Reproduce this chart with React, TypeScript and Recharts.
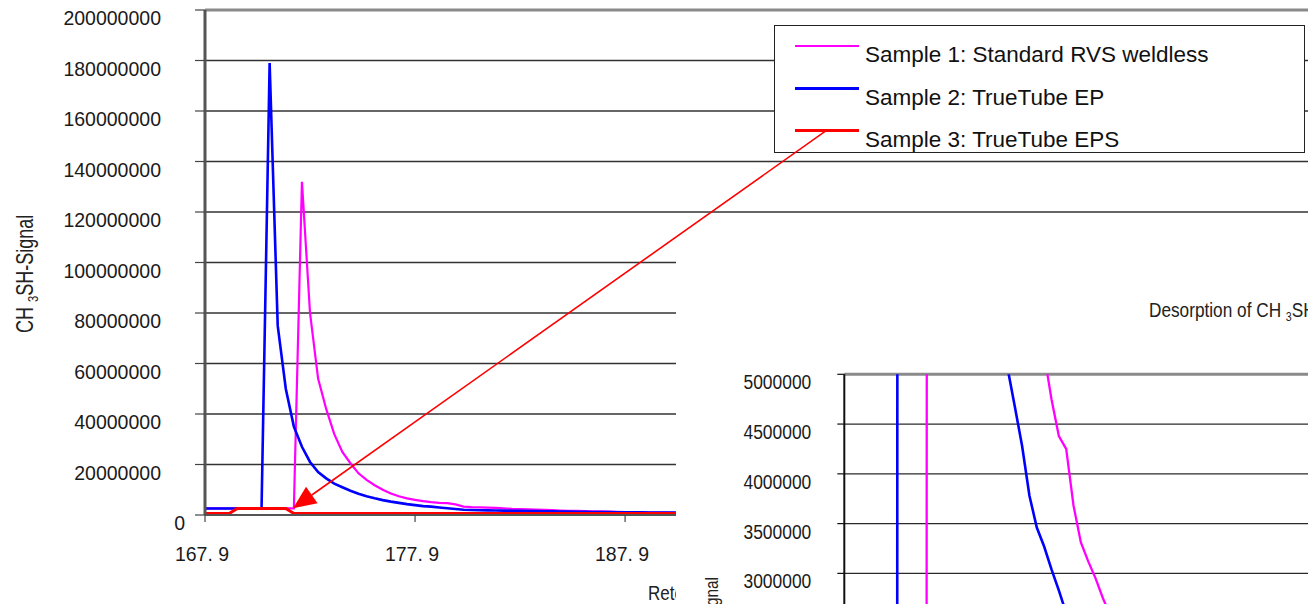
import React from "react";
import { LineChart, Line, XAxis, YAxis, CartesianGrid, ReferenceLine } from "recharts";

const FONT = '"Liberation Sans", Arial, Helvetica, sans-serif';
const M = 1000000;

// x axis is the sample index, labelled with the retention time every 26 samples
const X_TICKS = [0, 26, 52, 78, 104, 130];
const X_TICK_LABELS = ["167. 9", "177. 9", "187. 9", "197. 9", "207. 9", "217. 9"];
const Y_TICKS = [
  0, 20000000, 40000000, 60000000, 80000000, 100000000,
  120000000, 140000000, 160000000, 180000000, 200000000,
];
const INSET_Y_TICKS = [
  0, 500000, 1000000, 1500000, 2000000, 2500000,
  3000000, 3500000, 4000000, 4500000, 5000000,
];

// CH3SH signal in millions, one value per sample
const SAMPLE1 = [
  2.6, 2.6, 2.6, 2.6, 2.6, 2.6, 2.6, 2.6, 2.6, 2.6, 2.6, 2.6,
  132, 80, 54, 42, 32, 25, 20.5, 16.5, 13.9, 11.8, 10,
  8.5, 7.4, 6.6, 6.0, 5.5, 5.1, 4.8, 4.7, 4.2, 3.3,
  3.1, 3.0, 2.9, 2.8, 2.6, 2.4, 2.3, 2.2, 2.1, 2.0,
  1.9, 1.75, 1.65, 1.6, 1.5, 1.45, 1.4, 1.3, 1.2, 1.15,
  1.1, 1.05, 1.0, 0.95, 0.95, 0.9, 0.9, 0.9, 0.9, 0.85,
  0.85, 0.85, 0.85, 0.8, 0.8, 0.8, 0.8,
];
const SAMPLE2 = [
  2.6, 2.6, 2.6, 2.6, 2.6, 2.6, 2.6, 2.6,
  179, 75, 50, 35, 27, 21, 17, 14.5, 12.4, 11,
  9.6, 8.4, 7.4, 6.6, 5.9, 5.3, 4.8, 4.3, 3.9, 3.5,
  3.3, 3.0, 2.7, 2.4, 2.1, 2.0, 1.9, 1.85, 1.8, 1.75,
  1.7, 1.65, 1.6, 1.55, 1.5, 1.45, 1.4, 1.35, 1.3, 1.25,
  1.2, 1.2, 1.15, 1.1, 1.1, 1.05, 1.05, 1.0, 1.0, 0.95,
  0.95, 0.9, 0.9, 0.9, 0.85, 0.85, 0.85, 0.8, 0.8, 0.8, 0.8, 0.75,
];
const SAMPLE3 = [
  0.6, 0.6, 0.6, 0.6, 2.6, 2.6, 2.6, 2.6, 2.6, 2.6, 2.6,
  0.6, 0.6, 0.6, 0.6, 0.6, 0.6, 0.6, 0.6, 0.6, 0.6,
  0.6, 0.6, 0.6, 0.6, 0.6, 0.6, 0.6, 0.6, 0.6, 0.6,
  0.6, 0.6, 0.6, 0.6, 0.6, 0.6, 0.6, 0.6, 0.6, 0.6,
  0.6, 0.6, 0.6, 0.6, 0.6, 0.6, 0.6, 0.6, 0.6, 0.6,
  0.6, 0.6, 0.6, 0.6, 0.6, 0.6, 0.6, 0.6, 0.6, 0.6,
  0.6, 0.6, 0.6, 0.6, 0.6, 0.6, 0.6, 0.6, 0.6,
];

// zoomed desorption chart (inset), millions
const INSET_S1 = [
  2.2, 2.2, 2.2, 2.2, 2.2, 2.2, 2.2, 2.2, 2.2, 2.2, 2.2, 2.2,
  120, 80, 55, 38, 27, 20, 15, 12, 10, 8.8,
  7.8, 7.0, 6.4, 5.9, 5.5, 5.2, 4.75, 4.38, 4.25, 3.68,
  3.31, 3.12, 2.95, 2.75, 2.58, 2.45, 2.33, 2.22, 2.12, 2.03,
  1.95, 1.88, 1.82, 1.76, 1.7, 1.65, 1.6, 1.56, 1.52, 1.48,
  1.45, 1.42, 1.39, 1.36, 1.33, 1.3, 1.28, 1.26, 1.24, 1.22,
  1.2, 1.18,
];
const INSET_S2 = [
  2.0, 2.0, 2.0, 2.0, 2.0, 2.0, 2.0, 2.0,
  150, 80, 50, 35, 25, 18, 14, 11, 9.5, 8.3,
  7.3, 6.6, 6.0, 5.5, 5.07, 4.68, 4.28, 3.78, 3.46, 3.27,
  3.04, 2.83, 2.6, 2.4, 2.25, 2.1, 2.0, 1.9, 1.8, 1.72,
  1.65, 1.6, 1.55, 1.5, 1.45, 1.4, 1.36, 1.32, 1.28, 1.25,
  1.22, 1.2, 1.18, 1.15, 1.12, 1.1, 1.08, 1.06, 1.04, 1.02,
  1.0, 1.0, 0.98, 0.96, 0.95, 0.94,
];

const SERIES = [
  { key: "s1", name: "Sample 1: Standard RVS weldless", color: "#FF00FF", width: 2.2, legendWidth: 2 },
  { key: "s2", name: "Sample 2: TrueTube EP", color: "#0000FF", width: 2.6, legendWidth: 3.2 },
  { key: "s3", name: "Sample 3: TrueTube EPS", color: "#FF0000", width: 3, legendWidth: 2.6 },
];

const mainData = SAMPLE1.map((v, i) => ({ i, s1: v * M, s2: SAMPLE2[i] * M, s3: SAMPLE3[i] * M }));
const insetData = INSET_S1.map((v, i) => ({ i, s1: v * M, s2: INSET_S2[i] * M }));

// arrow from the sample 3 legend entry down to its trace
const ARROW_FROM = { x: 76.8, y: 152 * M };
const ARROW_TO = { x: 10.9, y: 2.65 * M };

const renderYTick = ({ x, y, payload }: any) => (
  <text
    x={x + (payload.value === 0 ? 24 : 0)}
    y={y + 8}
    textAnchor="end"
    dominantBaseline="central"
    fontSize={19.5}
    fontFamily={FONT}
    fill="#1a1a1a"
  >
    {payload.value}
  </text>
);

const renderXTick = ({ x, y, payload }: any) => (
  <text x={x - 3} y={y} textAnchor="middle" dominantBaseline="central" fontSize={19.5} fontFamily={FONT} fill="#1a1a1a">
    {X_TICK_LABELS[X_TICKS.indexOf(payload.value)]}
  </text>
);

const renderInsetYTick = ({ x, y, payload }: any) => (
  <g transform={`translate(${x},${y + 8}) scale(0.83,1)`}>
    <text textAnchor="end" dominantBaseline="central" fontSize={21} fontFamily={FONT} fill="#1a1a1a">
      {payload.value}
    </text>
  </g>
);

const renderYTitle = () => (
  <text transform="translate(33,333) rotate(-90) scale(0.75,1)" fontSize={24} fontFamily={FONT} fill="#222">
    <tspan>CH </tspan>
    <tspan fontSize={15} dy={5}>3</tspan>
    <tspan dy={-5}>SH-Signal</tspan>
  </text>
);

const renderXTitle = () => (
  <text transform="translate(648,600) scale(0.85,1)" fontSize={20} fontFamily={FONT} fill="#222">
    Retention time
  </text>
);

const renderInsetYTitle = () => (
  <text transform="translate(42,337) rotate(-90) scale(0.85,1)" textAnchor="end" fontSize={18} fontFamily={FONT} fill="#222">
    <tspan>CH </tspan>
    <tspan fontSize={12} dy={4}>3</tspan>
    <tspan dy={-4}>SH-Signal</tspan>
  </text>
);

const ArrowShape = (props: any) => {
  const { x1, y1, x2, y2 } = props;
  if (![x1, y1, x2, y2].every((v) => typeof v === "number" && isFinite(v))) return <g />;
  const len = Math.hypot(x2 - x1, y2 - y1);
  const ux = (x2 - x1) / len;
  const uy = (y2 - y1) / len;
  const head = 23;
  const half = 10;
  const bx = x2 - ux * head;
  const by = y2 - uy * head;
  const pts = `${x2},${y2} ${bx - uy * half},${by + ux * half} ${bx + uy * half},${by - ux * half}`;
  return (
    <g>
      <line x1={x1} y1={y1} x2={bx} y2={by} stroke="#FF0000" strokeWidth={1.6} />
      <polygon points={pts} fill="#FF0000" />
    </g>
  );
};

function LegendBox() {
  return (
    <div
      style={{
        position: "absolute",
        left: 774,
        top: 25,
        width: 529,
        height: 126,
        border: "1px solid #222",
        background: "#fff",
        fontFamily: FONT,
        fontSize: 22.5,
        color: "#111",
      }}
    >
      {SERIES.map((s, i) => (
        <React.Fragment key={s.key}>
          <div
            style={{
              position: "absolute",
              left: 20,
              top: 19.7 + i * 42.5 - s.legendWidth / 2,
              width: 64,
              height: s.legendWidth,
              background: s.color,
            }}
          />
          <div
            style={{
              position: "absolute",
              left: 90,
              top: 29 + i * 42.5 - 13,
              lineHeight: "26px",
              whiteSpace: "nowrap",
            }}
          >
            {s.name}
          </div>
        </React.Fragment>
      ))}
    </div>
  );
}

export default function App() {
  return (
    <div
      style={{
        position: "absolute",
        left: 0,
        top: 0,
        width: 1308,
        height: 604,
        overflow: "hidden",
        background: "#fff",
        fontFamily: FONT,
      }}
    >
      {/* main chromatogram */}
      <div style={{ position: "absolute", left: 0, top: 0 }}>
        <LineChart width={1340} height={604} data={mainData} margin={{ top: 10, right: 4, bottom: 0, left: 0 }}>
          <CartesianGrid vertical={false} stroke="#333" strokeWidth={1.3} />
          <XAxis
            dataKey="i"
            type="number"
            domain={[0, 140]}
            ticks={X_TICKS}
            interval={0}
            height={89}
            tickSize={7}
            tickMargin={32}
            axisLine={{ stroke: "#555", strokeWidth: 2 }}
            tickLine={{ stroke: "#444", strokeWidth: 1.2 }}
            tick={renderXTick}
            label={renderXTitle}
          />
          <YAxis
            type="number"
            domain={[0, 200000000]}
            ticks={Y_TICKS}
            interval={0}
            width={205}
            tickSize={10}
            tickMargin={34}
            axisLine={{ stroke: "#555", strokeWidth: 3 }}
            tickLine={{ stroke: "#444", strokeWidth: 1.2 }}
            tick={renderYTick}
            label={renderYTitle}
          />
          <ReferenceLine y={200000000} stroke="#8a8a8a" strokeWidth={3} />
          {SERIES.map((s) => (
            <Line
              key={s.key}
              type="linear"
              dataKey={s.key}
              name={s.name}
              stroke={s.color}
              strokeWidth={s.width}
              dot={false}
              activeDot={false}
              isAnimationActive={false}
            />
          ))}
        </LineChart>
      </div>

      <LegendBox />

      {/* zoomed desorption chart laid over the lower right */}
      <div
        style={{
          position: "absolute",
          left: 676,
          top: 240,
          width: 632,
          height: 364,
          background: "#fff",
          overflow: "hidden",
        }}
      >
        <LineChart width={640} height={700} data={insetData} margin={{ top: 134.3, right: 0, bottom: 68, left: 0 }}>
          <CartesianGrid vertical={false} stroke="#2a2a2a" strokeWidth={1.2} />
          <XAxis dataKey="i" type="number" domain={[-0.2, 64]} hide />
          <YAxis
            type="number"
            domain={[0, 5000000]}
            ticks={INSET_Y_TICKS}
            interval={0}
            allowDataOverflow
            width={168.3}
            tickSize={7}
            tickMargin={26}
            axisLine={{ stroke: "#111", strokeWidth: 2 }}
            tickLine={{ stroke: "#111", strokeWidth: 1.2 }}
            tick={renderInsetYTick}
            label={renderInsetYTitle}
          />
          <ReferenceLine y={5000000} stroke="#8a8a8a" strokeWidth={3} />
          <Line type="linear" dataKey="s1" stroke="#FF00FF" strokeWidth={2.3} dot={false} activeDot={false} isAnimationActive={false} />
          <Line type="linear" dataKey="s2" stroke="#0000FF" strokeWidth={2.6} dot={false} activeDot={false} isAnimationActive={false} />
        </LineChart>
        <div
          style={{
            position: "absolute",
            left: 473,
            top: 58,
            fontSize: 21,
            lineHeight: "24px",
            color: "#222",
            whiteSpace: "nowrap",
            transform: "scaleX(0.82)",
            transformOrigin: "0 0",
          }}
        >
          Desorption of CH <span style={{ fontSize: 13, position: "relative", top: 4 }}>3</span>SH
        </div>
      </div>

      {/* arrow annotation, drawn on top of the legend */}
      <div style={{ position: "absolute", left: 0, top: 0, pointerEvents: "none" }}>
        <LineChart width={1340} height={604} data={mainData} margin={{ top: 10, right: 4, bottom: 89, left: 205 }}>
          <XAxis dataKey="i" type="number" domain={[0, 140]} hide />
          <YAxis type="number" domain={[0, 200000000]} hide />
          <Line type="linear" dataKey="s3" stroke="none" strokeWidth={0} dot={false} activeDot={false} isAnimationActive={false} />
          <ReferenceLine segment={[ARROW_FROM, ARROW_TO]} shape={ArrowShape} ifOverflow="visible" />
        </LineChart>
      </div>
    </div>
  );
}
